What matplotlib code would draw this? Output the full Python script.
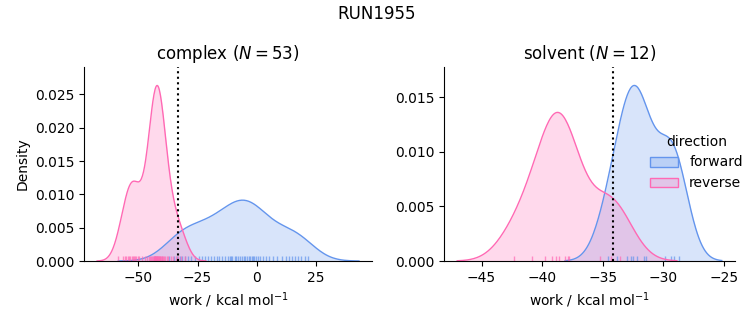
import numpy as np
import matplotlib
matplotlib.use("Agg")
import matplotlib.pyplot as plt
from matplotlib.patches import Patch

complex_forward = [-37.0, -35.0, -33.5, -32.5, -31.4, -30.3, -29.0, -27.6, -26.0, -24.5,
                   -23.0, -21.8, -20.6, -19.4, -18.1, -16.9, -15.7, -14.5, -13.4, -12.3,
                   -11.2, -10.7, -10.2, -9.3, -8.5, -7.7, -6.9, -6.2, -5.5, -4.8, -4.1,
                   -3.4, -2.7, -2.0, -1.6, -1.2, -0.4, 0.5, 1.5, 2.6, 3.8, 5.3,
                   7.0, 8.8, 10.8, 12.6, 13.9, 15.0, 16.2, 17.5, 19.0, 20.4, 21.8]
complex_reverse = [-58.5, -56.6, -55.8, -55.2, -54.5, -54.0, -53.4, -52.9, -52.5, -52.0,
                   -51.5, -51.0, -50.4, -49.7, -48.6, -47.4, -46.3,
                   -45.7, -45.1, -44.6, -44.2, -43.9, -43.6, -43.4, -43.2, -43.0, -42.9,
                   -42.8, -42.6, -42.4, -42.3, -42.2, -42.0, -41.8, -41.6, -41.4, -41.2,
                   -41.0, -40.8, -40.5, -40.2, -39.9, -39.5, -39.1, -38.6, -38.1, -37.5,
                   -36.2, -35.2, -34.2, -33.2, -32.0, -30.5]
solvent_forward = [-34.6, -33.8, -33.0, -32.7, -32.5, -32.2, -31.6, -31.4, -29.9, -29.4, -29.1, -28.7]
solvent_reverse = [-42.3, -40.8, -39.8, -39.2, -38.9, -38.6, -38.1, -37.9, -37.8, -35.2, -34.3, -33.6]
free_energy = {"complex": -33.3, "solvent": -34.2}
phases = ["complex", "solvent"]
directions = ["forward", "reverse"]
colors = {"forward": "#6495ED", "reverse": "#FF69B4"}
suptitle = "RUN1955"

data = {
    ("complex", "forward"): np.array(complex_forward),
    ("complex", "reverse"): np.array(complex_reverse),
    ("solvent", "forward"): np.array(solvent_forward),
    ("solvent", "reverse"): np.array(solvent_reverse),
}
n_total = sum(len(v) for v in data.values())


def kde(x, gridsize=200, cut=3):
    n = len(x)
    bw = n ** (-1 / 5) * np.std(x, ddof=1)
    grid = np.linspace(x.min() - cut * bw, x.max() + cut * bw, gridsize)
    z = (grid[:, None] - x[None, :]) / bw
    dens = np.exp(-0.5 * z ** 2).sum(axis=1) / (n * bw * np.sqrt(2 * np.pi))
    return grid, dens * n / n_total


fig = plt.figure(figsize=(7.53, 3.25), dpi=100)
axes = [fig.add_axes([0.1116, 0.1969, 0.3825, 0.5969]),
        fig.add_axes([0.5896, 0.1969, 0.3865, 0.5969])]

for ax, phase in zip(axes, phases):
    ymax = 0
    for d in directions:
        x = data[(phase, d)]
        g, y = kde(x)
        ymax = max(ymax, y.max())
        ax.fill_between(g, 0, y, color=colors[d], alpha=0.25, linewidth=0)
        ax.plot(g, y, color=colors[d], lw=1)
        ax.vlines(x, 0, 0.025, transform=ax.get_xaxis_transform(), color=colors[d], lw=1, alpha=0.7)
    ax.axvline(free_energy[phase], color="black", ls=":", lw=1.5)
    n = len(data[(phase, "forward")])
    ax.set_title(f"{phase} ($N = {n}$)", fontsize=12)
    ax.set_xlabel("work / kcal mol$^{-1}$")
    ax.set_ylim(0, ymax * 1.105)
    ax.spines["top"].set_visible(False)
    ax.spines["right"].set_visible(False)

axes[0].set_ylabel("Density")
axes[0].set_xticks([-50, -25, 0, 25])
axes[1].set_xticks([-45, -40, -35, -30, -25])

fig.suptitle(suptitle, fontsize=12, y=0.985)
handles = [Patch(facecolor=matplotlib.colors.to_rgba(colors[d], 0.25),
                 edgecolor=colors[d]) for d in directions]
fig.legend(handles, directions, title="direction", loc="center left",
           bbox_to_anchor=(0.847, 0.5), frameon=False, fontsize=10, title_fontsize=10)

fig.savefig("out.png", dpi=100)
